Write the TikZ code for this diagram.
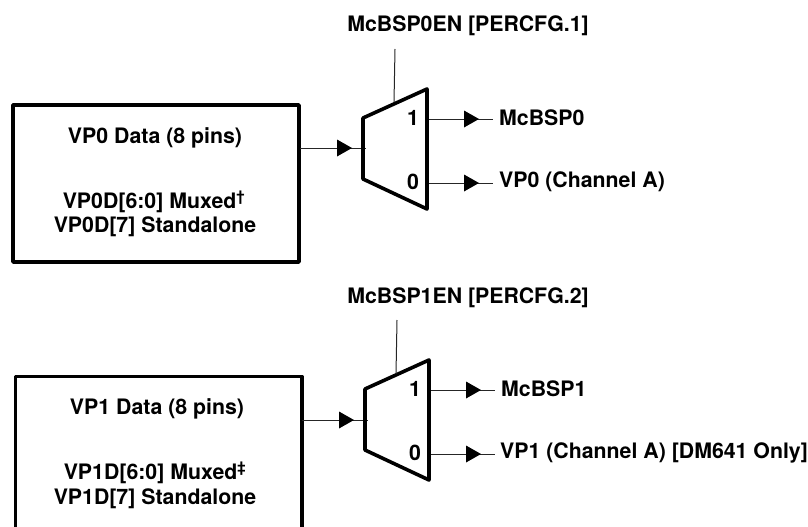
\documentclass[tikz,border=0pt]{standalone}
\usepackage{fontspec}
\setmainfont{TeX Gyre Heros}
\tikzset{
  x=1pt,y=-1pt,
  thick box/.style={draw,line width=3.6pt,line join=round},
  wire/.style={line width=1pt,black!85},
  lbl/.style={inner sep=0pt,font=\fontsize{21.3}{21.3}\selectfont\bfseries}
}
\newcommand{\arrowmark}[2]{\fill[black] (#1-15,#2-8.5) -- (#1,#2) -- (#1-15,#2+8.5) -- cycle;}
\begin{document}
\begin{tikzpicture}
\useasboundingbox (0,0) rectangle (808,527);
% top
\draw[thick box] (13,105) rectangle (299,262);
\node[lbl] (a1) at (155,138) {VP0 Data (8 pins)};
\node[lbl] (a2) at (154,202) {VP0D[6:0] Muxed\textsuperscript{\textdagger}};
\node[lbl] (a3) at (155,227) {VP0D[7] Standalone};
\coordinate (ain) at (300,148);
\coordinate (ainE) at (366,148);
\draw[wire] (ain) -- (ainE);
\arrowmark{352}{148}
\draw[thick box] (363,118) -- (427,89) -- (427,209) -- (363,179) -- cycle;
\coordinate (c1a) at (395,49); \coordinate (c1b) at (394,102);
\draw[wire] (c1a) -- (c1b);
\node[lbl] (t1) at (468,26) {McBSP0EN [PERCFG.1]};
\node[lbl] (o11) at (413,118) {1};
\node[lbl] (o10) at (413,182) {0};
\coordinate (s1) at (429,119); \coordinate (e1) at (493,119);
\coordinate (s2) at (429,183); \coordinate (e2) at (493,183);
\draw[wire] (s1) -- (e1); \draw[wire] (s2) -- (e2);
\arrowmark{479}{119}
\arrowmark{479}{183}
\node[lbl,anchor=west] (n1) at (499,118) {McBSP0};
\node[lbl,anchor=west] (n2) at (499,182) {VP0 (Channel A)};
% bottom: the box runs off the lower edge of the picture
\draw[thick box] (15.5,530) -- (15.5,376.5) -- (302,376.5) -- (302,530);
\node[lbl] (b1) at (157,409) {VP1 Data (8 pins)};
\node[lbl] (b2) at (155,473) {VP1D[6:0] Muxed\textsuperscript{\textdaggerdbl}};
\node[lbl] (b3) at (155,499) {VP1D[7] Standalone};
\coordinate (bin) at (302,420);
\coordinate (binE) at (368,420);
\draw[wire] (bin) -- (binE);
\arrowmark{354}{420}
\draw[thick box] (365,389) -- (429,360) -- (429,480) -- (365,450) -- cycle;
\coordinate (c2a) at (397,320); \coordinate (c2b) at (396,374);
\draw[wire] (c2a) -- (c2b);
\node[lbl] (t2) at (468,298) {McBSP1EN [PERCFG.2]};
\node[lbl] (o21) at (415,389) {1};
\node[lbl] (o20) at (415,453) {0};
\coordinate (s3) at (431,390); \coordinate (e3) at (495,390);
\coordinate (s4) at (431,454); \coordinate (e4) at (495,454);
\draw[wire] (s3) -- (e3); \draw[wire] (s4) -- (e4);
\arrowmark{481}{390}
\arrowmark{481}{454}
\node[lbl,anchor=west] (n3) at (501,389) {McBSP1};
\node[lbl,anchor=west] (n4) at (500,453) {VP1 (Channel A) [DM641 Only]};
\end{tikzpicture}
\end{document}
